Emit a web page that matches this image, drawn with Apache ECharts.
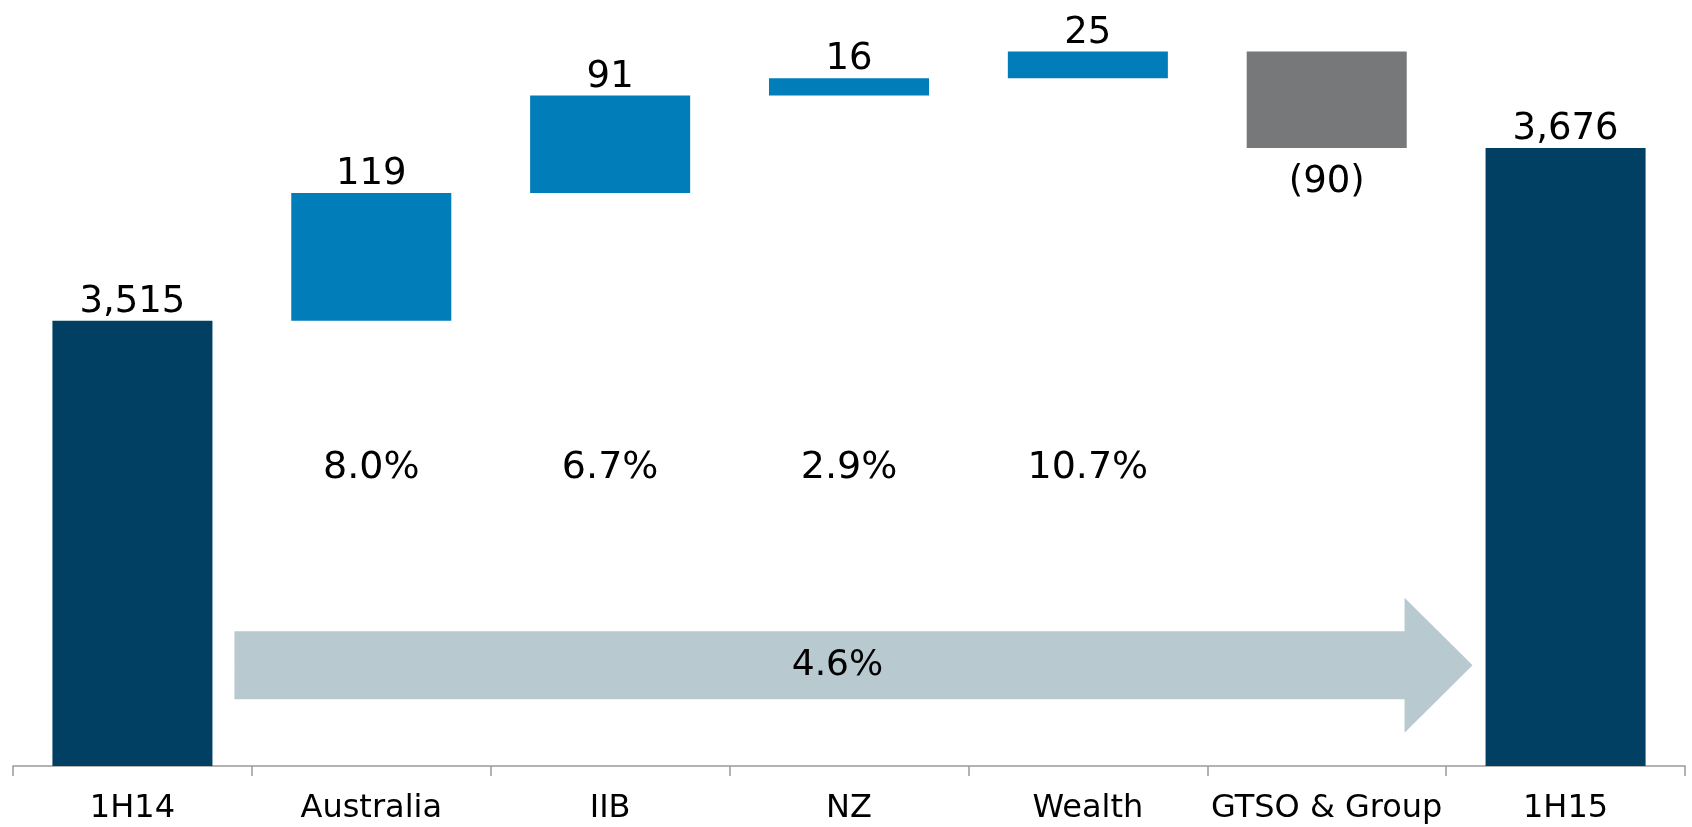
<!DOCTYPE html>
<html>
<head>
<meta charset="utf-8">
<script src="https://cdn.jsdelivr.net/npm/echarts@6/dist/echarts.min.js"></script>
<style>
  html, body { margin: 0; padding: 0; background: #fff; }
  #chart { width: 1692px; height: 827px; }
</style>
</head>
<body>
<div id="chart"></div>
<script>
const categories = ['1H14', 'Australia', 'IIB', 'NZ', 'Wealth', 'GTSO & Group', '1H15'];
// first and last are totals, the rest are movements
const changes = [3515, 119, 91, 16, 25, -90, 3676];
const growthPct = ['', '8.0%', '6.7%', '2.9%', '10.7%', '', ''];
const totalGrowth = '4.6%';

const NAVY = '#024063';
const BLUE = '#017dba';
const GREY = '#77787a';
const ARROW = '#b8c9d0';
const FONT = 'DejaVu Sans';

const PCT_LEVEL = 3378;   // y level of the percentage row
const ARROW_LEVEL = 3194; // y level of the growth arrow
const BAR_W = 0.67;

// waterfall helper values
const bases = [];
const heights = [];
let running = 0;
changes.forEach((v, i) => {
  const isTotal = i === 0 || i === changes.length - 1;
  if (isTotal) {
    bases.push(0);
    heights.push(v);
    running = v;
  } else if (v >= 0) {
    bases.push(running);
    heights.push(v);
    running += v;
  } else {
    running += v;
    bases.push(running);
    heights.push(-v);
  }
});

function fmt(v) {
  if (v < 0) return '(' + Math.abs(v).toLocaleString('en-US') + ')';
  return v.toLocaleString('en-US');
}

const deltaData = changes.map((v, i) => {
  const isTotal = i === 0 || i === changes.length - 1;
  return {
    value: heights[i],
    itemStyle: { color: isTotal ? NAVY : (v >= 0 ? BLUE : GREY) },
    label: v < 0 ? { position: 'bottom', distance: 16 } : { position: 'top', distance: 0 }
  };
});

const chart = echarts.init(document.getElementById('chart'));

chart.setOption({
  animation: false,
  grid: { left: 13, right: 7, top: 0, bottom: 61 },
  xAxis: {
    type: 'category',
    data: categories,
    axisLine: { show: true, lineStyle: { color: '#9a9a9a', width: 1.5 } },
    axisTick: { show: true, interval: 0, length: 10, lineStyle: { color: '#9a9a9a', width: 1.5 } },
    axisLabel: { interval: 0, color: '#000', fontFamily: FONT, fontSize: 32, margin: 27 }
  },
  yAxis: {
    type: 'value',
    min: 3100,
    max: 3814,
    show: false,
    splitLine: { show: false }
  },
  series: [
    {
      name: 'base',
      type: 'bar',
      stack: 'wf',
      barWidth: BAR_W * 100 + '%',
      itemStyle: { color: 'transparent' },
      emphasis: { disabled: true },
      data: bases
    },
    {
      name: 'delta',
      type: 'bar',
      stack: 'wf',
      barWidth: BAR_W * 100 + '%',
      label: {
        show: true,
        color: '#000',
        fontFamily: FONT,
        fontSize: 37,
        formatter: p => fmt(changes[p.dataIndex])
      },
      data: deltaData
    },
    {
      name: 'pct',
      type: 'custom',
      silent: true,
      data: growthPct.map((t, i) => [i, PCT_LEVEL]),
      renderItem: function (params, api) {
        const pt = api.coord([api.value(0), api.value(1)]);
        return {
          type: 'text',
          style: {
            text: growthPct[params.dataIndex],
            x: pt[0],
            y: pt[1],
            align: 'center',
            verticalAlign: 'middle',
            fill: '#000',
            font: '38px "' + FONT + '"'
          }
        };
      }
    },
    {
      name: 'arrow',
      type: 'custom',
      silent: true,
      data: [[0, categories.length - 1]],
      renderItem: function (params, api) {
        const from = api.coord([api.value(0), ARROW_LEVEL]);
        const to = api.coord([api.value(1), ARROW_LEVEL]);
        const bw = api.size([1, 0])[0] * BAR_W;
        const x0 = from[0] + bw / 2 + 22;
        const tip = to[0] - bw / 2 - 13;
        const headLen = 68;
        const bandH = 68;
        const headH = 135;
        const y = from[1];
        const xh = tip - headLen;
        return {
          type: 'group',
          children: [
            {
              type: 'polygon',
              shape: {
                points: [
                  [x0, y - bandH / 2], [xh, y - bandH / 2], [xh, y - headH / 2],
                  [tip, y], [xh, y + headH / 2], [xh, y + bandH / 2], [x0, y + bandH / 2]
                ]
              },
              style: { fill: ARROW }
            },
            {
              type: 'text',
              style: {
                text: totalGrowth,
                x: (x0 + xh) / 2 + 18,
                y: y,
                align: 'center',
                verticalAlign: 'middle',
                fill: '#000',
                font: '36px "' + FONT + '"'
              }
            }
          ]
        };
      }
    }
  ]
});
</script>
</body>
</html>
